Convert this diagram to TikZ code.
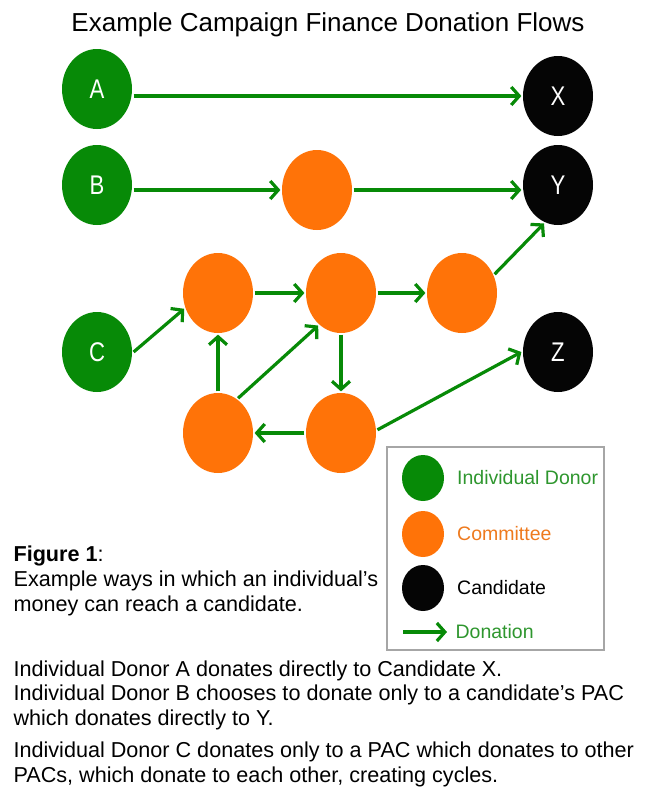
\documentclass[tikz,border=0pt]{standalone}
\usepackage{fontspec}
\setmainfont{Liberation Sans}
\newfontfamily\narrowsans[FakeStretch=0.82]{Liberation Sans}
\usetikzlibrary{arrows.meta, shapes.geometric, positioning}
\definecolor{dgreen}{HTML}{078A07}
\definecolor{corange}{HTML}{FF7308}
\definecolor{cblack}{HTML}{050505}
\definecolor{lgreen}{HTML}{2E962E}
\definecolor{lorange}{HTML}{EE7A1E}

\begin{document}
\begin{tikzpicture}[->,>={Straight Barb[length=8pt,width=18pt]},x=1pt,y=-1pt,line width=3.2pt]
    \tikzset{every node/.style={inner sep=0pt}}
    \tikzset{donor/.style={ellipse, fill=dgreen, minimum width=70pt, minimum height=80pt, text=white, font=\narrowsans\fontsize{27}{27}\selectfont}}
    \tikzset{pac/.style={donor, fill=corange}}
    \tikzset{cand/.style={donor, fill=cblack}}
    \tikzset{flow/.style={draw=dgreen}}
    \tikzset{key/.style={ellipse, minimum width=42pt, minimum height=46pt}}
    \tikzset{keytext/.style={anchor=west, font=\fontsize{19.5}{24}\selectfont}}
    \tikzset{prose/.style={anchor=north west, align=left, font=\fontsize{21.6}{25}\selectfont}}
    \useasboundingbox (0,0) rectangle (667,795);
    \node[anchor=base, font=\fontsize{26}{26}\selectfont] (title) at (328,31) {Example Campaign Finance Donation Flows};
    % donors, committees, candidates
    \node[donor] (A) at (97,89) {A};
    \node[donor] (B) at (97,185) {B};
    \node[donor] (C) at (97,352) {C};
    \node[pac] (pB) at (317,190) {};
    \node[pac] (p1) at (218,293) {};
    \node[pac] (p2) at (341,293) {};
    \node[pac] (p3) at (462,293) {};
    \node[pac] (p4) at (218,433) {};
    \node[pac] (p5) at (341,433) {};
    \node[cand] (X) at (558,96) {X};
    \node[cand] (Y) at (558,185) {Y};
    \node[cand] (Z) at (558,352) {Z};
    % donations
    \path (A.east |- X) edge[flow] (X);
    \path (B.east |- pB) edge[flow] (pB);
    \path (pB) edge[flow] (Y.west |- pB);
    \path (C.east) edge[flow] (p1.205);
    \path (p1) edge[flow] (p2);
    \path (p2) edge[flow] (p3);
    \path (p3.30) edge[flow] (Y.250);
    \path (p2) edge[flow] (p5);
    \path (p5) edge[flow] (p4);
    \path (p4) edge[flow] (p1);
    \path (p4.60) edge[flow] (p2.235);
    \path (p5.5) edge[flow] (Z.west);
    % legend
    \node[draw=gray!70, line width=1.2pt, minimum width=217pt, minimum height=203pt] (legend) at (495.5,548.5) {};
    \node[key, fill=dgreen] (kdonor) at (423,478) {};
    \node[key, fill=corange] (kpac) at (423,534) {};
    \node[key, fill=cblack] (kcand) at (423,588) {};
    \node[keytext, text=lgreen, right=10pt of kdonor] (tdonor) {Individual Donor};
    \node[keytext, text=lorange, right=10pt of kpac] (tpac) {Committee};
    \node[keytext, right=10pt of kcand] (tcand) {Candidate};
    \coordinate (k0) at (403,632);
    \coordinate (k1) at (447,632);
    \draw[flow] (k0) -- (k1);
    \node[keytext, text=lgreen] (tdonation) at (454,632) {Donation};
    % caption and notes
    \node[prose] (cap) at (12,544) {\textbf{Figure 1}:\\Example ways in which an individual’s\\money can reach a candidate.};
    \node[prose] (noteA) at (12,659) {Individual Donor A donates directly to Candidate X.};
    \node[prose] (noteB) at (12,683) {Individual Donor B chooses to donate only to a candidate’s PAC\\which donates directly to Y.};
    \node[prose] (noteC) at (12,740) {Individual Donor C donates only to a PAC which donates to other\\PACs, which donate to each other, creating cycles.};
\end{tikzpicture}
\end{document}
